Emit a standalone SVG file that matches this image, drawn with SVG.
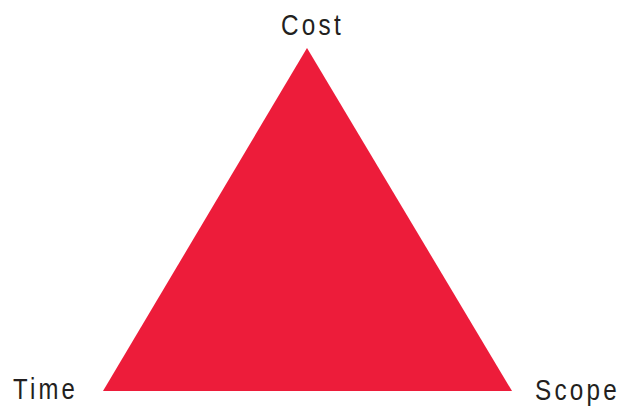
<svg xmlns="http://www.w3.org/2000/svg" width="620" height="408" viewBox="0 0 620 408">
<style>
.lbl{font-family:"Liberation Sans",Arial,sans-serif;font-size:30px;fill:#231f20;letter-spacing:4px}
</style>
<rect width="620" height="408" fill="#ffffff"/>
<g id="triangle">
<polygon points="307,48 103,391 512,391" fill="#ed1c3a"/>
</g>
<g id="cost"><text class="lbl" x="281" y="35" textLength="63" lengthAdjust="spacingAndGlyphs">Cost</text></g>
<g id="time"><text class="lbl" x="13" y="399" textLength="65" lengthAdjust="spacingAndGlyphs">Time</text></g>
<g id="scope"><text class="lbl" x="535" y="400" textLength="85" lengthAdjust="spacingAndGlyphs">Scope</text></g>
</svg>
